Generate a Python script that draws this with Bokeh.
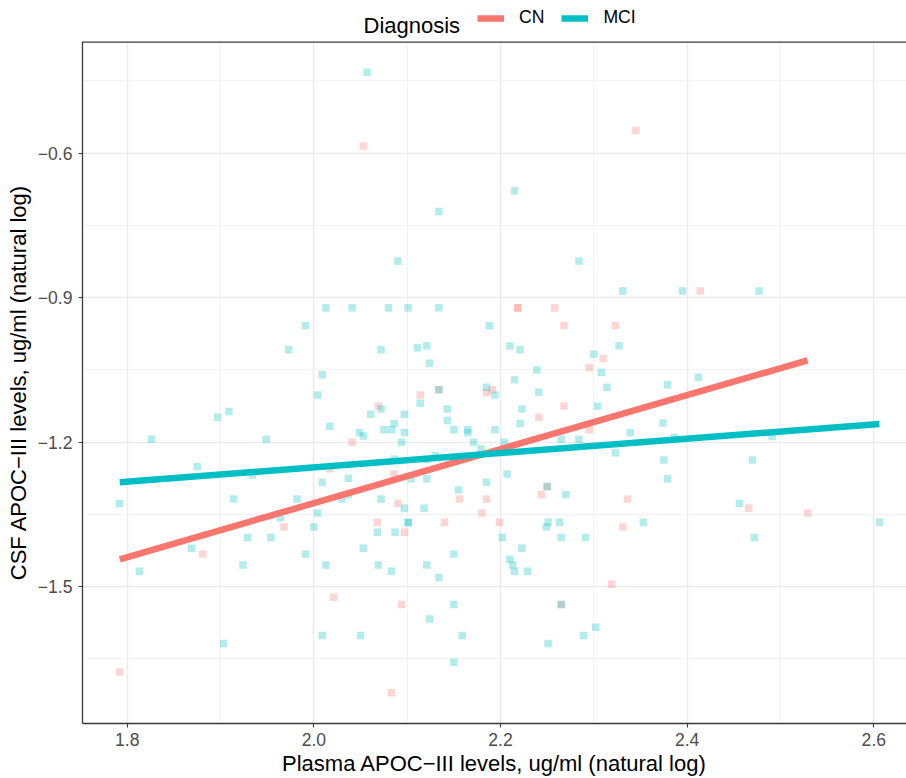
from bokeh.plotting import figure
from bokeh.layouts import column
from bokeh.models import Range1d, FixedTicker, Legend, LegendItem, Span, Label
from bokeh.embed import file_html
from bokeh.resources import INLINE

# ---- data ----
cn_x = [2.053, 2.345, 2.041, 2.218, 2.219, 2.258, 2.268, 2.323, 2.310, 2.295,
        2.134, 2.114, 2.191, 2.185, 2.069, 2.268, 2.241, 2.295, 2.086, 2.250,
        2.156, 2.185, 2.090, 2.180, 2.244, 2.336, 2.068, 2.097, 2.140, 2.199,
        2.331, 2.319, 2.094, 2.265, 2.083, 2.414, 2.466, 2.529, 1.968, 1.881,
        2.021, 1.792, 2.017]
cn_y = [-0.585, -0.553, -1.200, -0.921, -0.921, -0.921, -0.958, -0.958, -1.026, -1.045,
        -1.091, -1.102, -1.091, -1.097, -1.125, -1.125, -1.148, -1.174, -1.266, -1.292,
        -1.318, -1.318, -1.327, -1.347, -1.309, -1.318, -1.366, -1.387, -1.366, -1.366,
        -1.376, -1.495, -1.537, -1.537, -1.720, -0.886, -1.337, -1.347, -1.376, -1.432,
        -1.522, -1.677, -1.255]

mci_x = [2.057, 2.215, 2.134, 2.090, 2.284, 2.013, 2.041, 1.991, 1.973, 2.009,
         2.004, 1.897, 1.909, 2.017, 1.826, 1.949, 2.049, 1.875, 1.934, 2.009,
         2.037, 2.080, 2.101, 2.134, 2.188, 2.331, 2.072, 2.111, 2.121, 2.124,
         2.210, 2.221, 2.300, 2.327, 2.308, 2.314, 2.239, 2.215, 2.241, 2.134,
         2.114, 2.185, 2.194, 2.072, 2.061, 2.097, 2.143, 2.143, 2.086, 2.075,
         2.083, 2.097, 2.053, 2.094, 2.150, 2.165, 2.165, 2.171, 2.194, 2.223,
         2.221, 2.304, 2.204, 2.265, 2.284, 2.323, 2.339, 2.179, 2.130, 2.121,
         2.086, 2.104, 2.121, 2.207, 2.185, 2.155, 2.250, 2.072, 2.097, 2.118,
         2.270, 2.068, 2.087, 2.101, 2.101, 2.251, 2.249, 2.263, 2.265, 2.291,
         2.202, 2.053, 2.223, 2.150, 2.210, 2.213, 2.215, 2.229, 2.069, 2.083,
         2.121, 2.134, 2.150, 2.265, 2.124, 2.050, 2.159, 2.302, 2.289, 2.251,
         2.150, 2.379, 2.353, 2.456, 2.472, 2.606, 2.395, 2.477, 2.412, 2.379,
         2.374, 2.386, 2.491, 2.375, 2.470, 1.792, 1.914, 1.982, 2.030, 2.037,
         2.004, 1.964, 2.000, 1.929, 1.954, 1.869, 1.991, 1.924, 2.013, 1.813,
         2.009, 1.903]
mci_y = [-0.432, -0.678, -0.721, -0.824, -0.824, -0.921, -0.921, -0.958, -1.008, -1.060,
         -1.102, -1.148, -1.136, -1.167, -1.194, -1.194, -1.180, -1.251, -1.268, -1.283,
         -1.275, -0.921, -0.921, -0.921, -0.958, -0.886, -1.008, -1.004, -1.000, -1.036,
         -1.000, -1.008, -1.017, -1.000, -1.055, -1.086, -1.050, -1.070, -1.096, -1.091,
         -1.119, -1.086, -1.102, -1.131, -1.142, -1.142, -1.131, -1.155, -1.161, -1.174,
         -1.174, -1.180, -1.187, -1.200, -1.174, -1.174, -1.180, -1.200, -1.174, -1.131,
         -1.161, -1.125, -1.200, -1.194, -1.194, -1.222, -1.180, -1.214, -1.228, -1.236,
         -1.235, -1.276, -1.276, -1.266, -1.283, -1.299, -1.292, -1.318, -1.337, -1.337,
         -1.309, -1.387, -1.387, -1.366, -1.367, -1.366, -1.376, -1.366, -1.398, -1.398,
         -1.398, -1.420, -1.420, -1.432, -1.443, -1.455, -1.468, -1.468, -1.455, -1.468,
         -1.455, -1.481, -1.537, -1.537, -1.567, -1.601, -1.601, -1.584, -1.601, -1.618,
         -1.657, -1.276, -1.366, -1.327, -1.398, -1.366, -0.886, -0.886, -1.065, -1.081,
         -1.160, -1.190, -1.188, -1.237, -1.237, -1.327, -1.318, -1.318, -1.318, -1.309,
         -1.347, -1.357, -1.376, -1.398, -1.398, -1.420, -1.432, -1.455, -1.455, -1.468,
         -1.601, -1.618]

# fitted (lm) lines as drawn
cn_fit_x = [1.792, 2.529]
cn_fit_y = [-1.443, -1.030]
mci_fit_x = [1.792, 2.606]
mci_fit_y = [-1.283, -1.162]

groups = ["CN", "MCI"]
legend_title = "Diagnosis"

x_ticks = [1.8, 2.0, 2.2, 2.4, 2.6]
x_tick_labels = ["1.8", "2.0", "2.2", "2.4", "2.6"]
x_minor = [1.7, 1.9, 2.1, 2.3, 2.5, 2.7]
y_ticks = [-1.5, -1.2, -0.9, -0.6]
y_tick_labels = ["\u22121.5", "\u22121.2", "\u22120.9", "\u22120.6"]
y_minor = [-1.65, -1.35, -1.05, -0.75, -0.45]

CN_COL = "#F8766D"
MCI_COL = "#00BFC4"
FONT = "Liberation Sans"
BORDER = "#3a3a3a"
Y_TOP = -0.3681

# ---------- legend strip (top) ----------
top = figure(width=906, height=40, output_backend="svg", toolbar_location=None,
             x_axis_type=None, y_axis_type=None, min_border=0,
             x_range=Range1d(0, 1), y_range=Range1d(0, 1))
top.outline_line_color = None
top.xgrid.visible = False
top.ygrid.visible = False
# key renderers (their data lie outside this strip's ranges, only the legend keys show)
key_cn = top.line(cn_fit_x, cn_fit_y, line_color=CN_COL, line_width=6.5)
key_mci = top.line(mci_fit_x, mci_fit_y, line_color=MCI_COL, line_width=6.5)
legend = Legend(items=[LegendItem(label=groups[0], renderers=[key_cn]),
                       LegendItem(label=groups[1], renderers=[key_mci])],
                orientation="horizontal",
                location=(395, 12), border_line_color=None, background_fill_alpha=0,
                padding=0, margin=0, spacing=17, glyph_width=27, glyph_height=20,
                label_standoff=15,
                label_text_font=FONT, label_text_font_size="17.6px",
                label_text_color="black")
top.add_layout(legend, "center")
top.add_layout(Label(x=281, y=15, x_units="screen", y_units="screen", text=legend_title,
                     text_font=FONT, text_font_size="22px", text_color="black",
                     text_baseline="alphabetic", text_align="left"))

# ---------- main panel ----------
p = figure(width=906, height=738, output_backend="svg", toolbar_location=None,
           x_range=Range1d(1.7521, 2.635), y_range=Range1d(-1.7839, Y_TOP),
           min_border_left=82, min_border_right=0, min_border_top=1, min_border_bottom=0)
p.outline_line_color = None
p.background_fill_color = "white"

p.scatter(cn_x, cn_y, marker="square", size=7.5, fill_color=CN_COL, fill_alpha=0.3, line_color=None)
p.scatter(mci_x, mci_y, marker="square", size=7.5, fill_color=MCI_COL, fill_alpha=0.3, line_color=None)

p.line(cn_fit_x, cn_fit_y, line_color=CN_COL, line_width=6.5)
p.line(mci_fit_x, mci_fit_y, line_color=MCI_COL, line_width=6.5)

p.xaxis.ticker = FixedTicker(ticks=x_ticks, minor_ticks=x_minor)
p.yaxis.ticker = FixedTicker(ticks=y_ticks, minor_ticks=y_minor)
p.xaxis.major_label_overrides = dict(zip(x_ticks, x_tick_labels))
p.yaxis.major_label_overrides = dict(zip(y_ticks, y_tick_labels))

for ax in (p.xaxis, p.yaxis):
    ax.axis_line_color = BORDER
    ax.axis_line_width = 1.3
    ax.major_tick_line_color = BORDER
    ax.major_tick_line_width = 1.1
    ax.major_tick_out = 4
    ax.major_tick_in = 0
    ax.minor_tick_line_color = None
    ax.major_label_text_font = FONT
    ax.major_label_text_font_size = "17.6px"
    ax.major_label_text_color = "#4D4D4D"
    ax.axis_label_text_font = FONT
    ax.axis_label_text_font_size = "22px"
    ax.axis_label_text_font_style = "normal"
    ax.axis_label_text_color = "black"

p.xaxis.axis_label = "Plasma APOC\u2212III levels, ug/ml (natural log)"
p.yaxis.axis_label = "CSF APOC\u2212III levels, ug/ml (natural log)"
p.xaxis.major_label_standoff = 5
p.xaxis.axis_label_standoff = 2
p.yaxis.major_label_standoff = 6
p.yaxis.axis_label_standoff = 4

# top panel border
p.add_layout(Span(location=Y_TOP, dimension="width", line_color=BORDER, line_width=2.6))

for g in (p.xgrid, p.ygrid):
    g.grid_line_color = "#EBEBEB"
    g.grid_line_width = 1.5
    g.minor_grid_line_color = "#F0F0F0"
    g.minor_grid_line_width = 0.9

layout = column(top, p, spacing=0)
open("out.html", "w").write(file_html(layout, INLINE))
